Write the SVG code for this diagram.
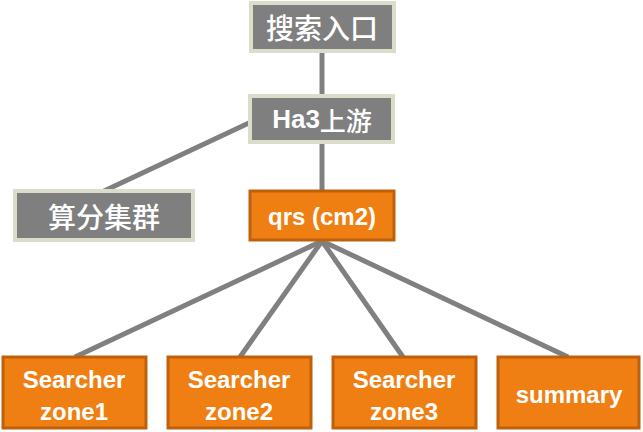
<svg xmlns="http://www.w3.org/2000/svg" width="643" height="432" viewBox="0 0 643 432">
<style>
.g{fill:#7f7f7f;stroke:#dcdccb;stroke-width:4}
.o{fill:#ef7f12;stroke:#bf600c;stroke-width:3}
.t{fill:#fff;font-family:"Liberation Sans","Noto Sans CJK SC",sans-serif;font-weight:bold;text-anchor:middle}
.c{font-size:28px;dominant-baseline:central;font-family:"Noto Sans CJK SC",sans-serif;font-weight:500}
.e{font-size:24px}
.l{stroke:#808080;stroke-width:5;fill:none}
</style>
<rect width="643" height="432" fill="#fff"/>
<g id="connectors">
<line class="l" x1="322" y1="52" x2="322" y2="96"/>
<line class="l" x1="322" y1="142" x2="322" y2="191"/>
<line class="l" x1="251" y1="122" x2="104" y2="191"/>
<line class="l" x1="322" y1="241" x2="75" y2="357"/>
<line class="l" x1="322" y1="241" x2="240" y2="357"/>
<line class="l" x1="322" y1="241" x2="403" y2="357"/>
<line class="l" x1="322" y1="241" x2="568" y2="357"/>
</g>
<g id="n_entry">
<rect class="g" x="251" y="3" width="143" height="48"/>
<text class="t c" x="322" y="27">搜索入口</text>
</g>
<g id="n_ha3">
<rect class="g" x="250" y="96" width="143" height="46"/>
<text class="t c" x="322" y="119" style="font-size:26px"><tspan style="font-family:'Liberation Sans',sans-serif;font-weight:bold">Ha3</tspan>上游</text>
</g>
<g id="n_score">
<rect class="g" x="15" y="191" width="178" height="49"/>
<text class="t c" x="104" y="216">算分集群</text>
</g>
<g id="n_qrs">
<rect class="o" x="250" y="191" width="144" height="49"/>
<text class="t e" x="322" y="225">qrs (cm2)</text>
</g>
<g id="n_zone1">
<rect class="o" x="3" y="357" width="143" height="71"/>
<text class="t e" x="74" y="388">Searcher</text>
<text class="t e" x="74" y="420">zone1</text>
</g>
<g id="n_zone2">
<rect class="o" x="168" y="357" width="143" height="71"/>
<text class="t e" x="239" y="388">Searcher</text>
<text class="t e" x="239" y="420">zone2</text>
</g>
<g id="n_zone3">
<rect class="o" x="333" y="357" width="143" height="71"/>
<text class="t e" x="404" y="388">Searcher</text>
<text class="t e" x="404" y="420">zone3</text>
</g>
<g id="n_summary">
<rect class="o" x="498" y="357" width="141" height="71"/>
<text class="t e" x="569" y="403">summary</text>
</g>
</svg>
